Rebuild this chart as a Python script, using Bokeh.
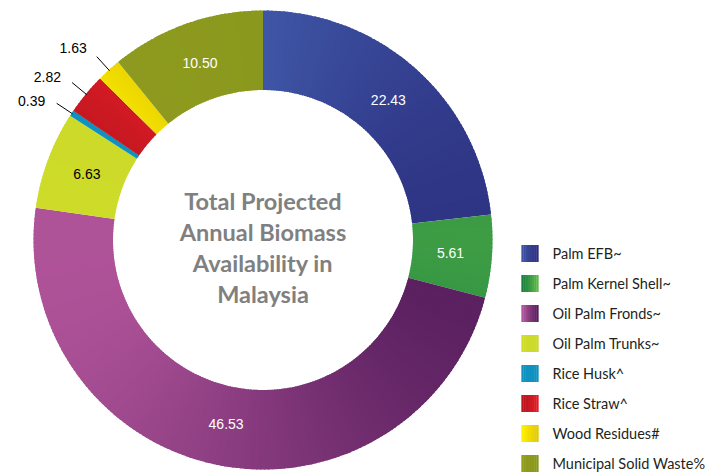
import math
import numpy as np
from bokeh.plotting import figure
from bokeh.models import Range1d, ColumnDataSource
from bokeh.core.properties import value
from bokeh.embed import file_html
from bokeh.resources import INLINE

# ---------------- data ----------------
categories = ["Palm EFB~", "Palm Kernel Shell~", "Oil Palm Fronds~", "Oil Palm Trunks~",
              "Rice Husk^", "Rice Straw^", "Wood Residues#", "Municipal Solid Waste%"]
values = [22.43, 5.61, 46.53, 6.63, 0.39, 2.82, 1.63, 10.50]
value_labels = ["22.43", "5.61", "46.53", "6.63", "0.39", "2.82", "1.63", "10.50"]
center_title = ["Total Projected", "Annual Biomass", "Availability in", "Malaysia"]

# ---------------- style ----------------
color_left = ["#3f56a6", "#127a3c", "#b8589f", "#cfdc2a", "#0f92bf", "#b3141d", "#fff000", "#8e9b1f"]
color_right = ["#2c2e7e", "#63ba4c", "#521b5a", "#cbd928", "#0f92bf", "#e31e27", "#e0c800", "#8a981d"]
label_colors = ["white", "white", "white", "black", "black", "black", "black", "white"]

PAGE_W, PAGE_H = 706, 472
W, H = 706, 472
CX, CY_REF = 262.5, 239.5
RO, RI = 229.5, 150.0


def Y(y):
    return PAGE_H - y


CY = Y(CY_REF)


def hex2rgb(h):
    h = h.lstrip("#")
    return tuple(int(h[i:i + 2], 16) for i in (0, 2, 4))


def mix(c0, c1, t):
    a, b = hex2rgb(c0), hex2rgb(c1)
    return "#%02x%02x%02x" % tuple(int(round(a[i] + (b[i] - a[i]) * t)) for i in range(3))


p = figure(width=W, height=H, x_range=Range1d(0, W), y_range=Range1d(PAGE_H - H, PAGE_H),
           output_backend="svg", toolbar_location=None, min_border=0,
           x_axis_type=None, y_axis_type=None)
p.grid.visible = False
p.outline_line_color = None
p.background_fill_color = "white"
p.border_fill_color = "white"

total = float(sum(values))
cum = np.concatenate([[0.0], np.cumsum(values)]) / total

# gradient-filled wedges (split into thin, slightly overlapping slices coloured by x position)
xs, ys, sa, ea, cols = [], [], [], [], []
for i in range(len(values)):
    t0, t1 = 360 * cum[i], 360 * cum[i + 1]
    samp = np.radians(np.linspace(t0, t1, 80))
    ex = np.concatenate([CX + RO * np.sin(samp), CX + RI * np.sin(samp)])
    xmin, xmax = ex.min(), ex.max()
    n = max(3, int(math.ceil(t1 - t0)))
    for k in range(n):
        a0 = t0 + (t1 - t0) * k / n
        a1 = t0 + (t1 - t0) * (k + 1) / n
        am = math.radians((a0 + a1) / 2)
        xm = CX + (RI + RO) / 2 * math.sin(am)
        tt = 0.5 if xmax - xmin < 1e-6 else (xm - xmin) / (xmax - xmin)
        a1e = a1 + 0.5 if k < n - 1 else a1
        xs.append(CX)
        ys.append(CY)
        sa.append(math.radians(90 - a0))
        ea.append(math.radians(90 - a1e))
        cols.append(mix(color_left[i], color_right[i], tt))

src = ColumnDataSource(dict(x=xs, y=ys, sa=sa, ea=ea, c=cols))
p.annular_wedge(x="x", y="y", inner_radius=RI, outer_radius=RO, start_angle="sa", end_angle="ea",
                direction="clock", fill_color="c", line_color=None, source=src)

# value labels
in_x, in_y, in_t, in_c = [], [], [], []
out_x, out_y, out_t = [], [], []
lx0, ly0, lx1, ly1 = [], [], [], []
for i, v in enumerate(values):
    tm = math.radians(360 * (cum[i] + cum[i + 1]) / 2)
    if v / total >= 0.03:
        r = 188
        in_x.append(CX + r * math.sin(tm))
        in_y.append(CY + r * math.cos(tm))
        in_t.append(value_labels[i])
        in_c.append(label_colors[i])
    else:
        lx0.append(CX + (RO - 1) * math.sin(tm))
        ly0.append(CY + (RO - 1) * math.cos(tm))
        lx1.append(CX + (RO + 18) * math.sin(tm))
        ly1.append(CY + (RO + 18) * math.cos(tm))
        tl = tm - math.radians(2.5)
        out_x.append(CX + 270 * math.sin(tl))
        out_y.append(CY + 270 * math.cos(tl))
        out_t.append(value_labels[i])

p.text(x=in_x, y=in_y, text=in_t, text_color=in_c, text_font=value("Liberation Sans"),
       text_font_size="14px", text_align="center", text_baseline="middle")
p.segment(x0=lx0, y0=ly0, x1=lx1, y1=ly1, line_color="black", line_width=1)
p.text(x=out_x, y=out_y, text=out_t, text_color="black", text_font=value("Liberation Sans"),
       text_font_size="14px", text_align="center", text_baseline="middle")

# centre title
line_gap = 31
n_lines = len(center_title)
ty = [CY - 7 + (n_lines - 1) / 2 * line_gap - k * line_gap for k in range(n_lines)]
p.text(x=[CX] * n_lines, y=ty, text=center_title, text_color="#808080",
       text_font=value("Lato"), text_font_style="bold", text_font_size="23.5px",
       text_align="center", text_baseline="middle")

# legend
leg_x, leg_y0, leg_step, sq = 529.5, 253, 30.0, 17
gy = [Y(leg_y0 + k * leg_step) for k in range(len(categories))]
for k in range(len(categories)):
    nseg = 8
    for s in range(nseg):
        w = sq / nseg
        p.rect(x=[leg_x - sq / 2 + w * (s + 0.5)], y=[gy[k]], width=w + 0.3, height=sq,
               fill_color=mix(color_left[k], color_right[k], (s + 0.5) / nseg), line_color=None)
p.text(x=[552] * len(categories), y=gy, text=categories, text_color="#231f20",
       text_font=value("Lato"), text_font_size="14.5px", text_align="left", text_baseline="middle")

open("out.html", "w").write(file_html(p, INLINE))
